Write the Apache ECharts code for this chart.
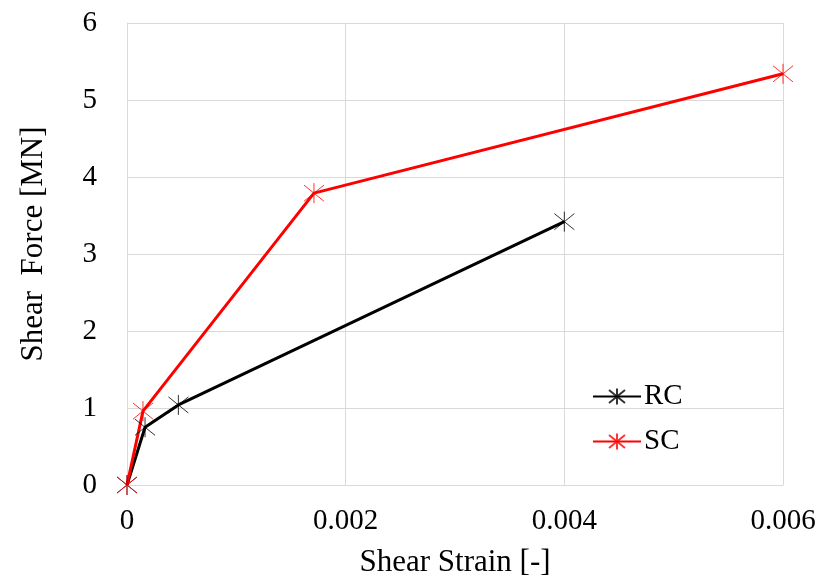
<!DOCTYPE html>
<html><head><meta charset="utf-8">
<script src="https://cdn.jsdelivr.net/npm/echarts@6/dist/echarts.min.js"></script>
<style>html,body{margin:0;padding:0;background:#fff}#c{width:823px;height:583px}</style>
</head><body><div id="c"></div>
<script>
const rcStrain = [0, 0.000165, 0.00047, 0.004];
const rcForce  = [0, 0.75, 1.04, 3.42];
const scStrain = [0, 0.000146, 0.00171, 0.006];
const scForce  = [0, 0.96, 3.79, 5.34];
const seriesNames = ['RC', 'SC'];
const xTitle = 'Shear Strain [-]';
const yTitle = 'Shear  Force [MN]';

const star = 'path://M0,0L10,10M0,10L10,0M5,-1.2L5,11.2';
const font = '"Liberation Serif", "Times New Roman", serif';
function pairs(xs, ys){ return xs.map((x,i)=>[x, ys[i]]); }
function mk(name, xs, ys, color){
  return {
    name, type:'line', data: pairs(xs, ys), symbol: star, symbolSize: 20,
    lineStyle:{color, width:3},
    itemStyle:{color:'none', borderColor: color, borderWidth:1, opacity:0.8},
    emphasis:{disabled:true}, animation:false
  };
}
const chart = echarts.init(document.getElementById('c'));
chart.setOption({
  animation:false,
  backgroundColor:'#fff',
  grid:{left:127, right:40, top:23, bottom:98},
  legend:{
    orient:'vertical', left:587, top:377, itemWidth:48, itemHeight:20, itemGap:16,
    data: seriesNames,
    textStyle:{fontFamily:font, fontSize:29, color:'#000', padding:[0,0,0,-2]}
  },
  xAxis:{
    type:'value', min:0, max:0.006, interval:0.002,
    name:xTitle, nameLocation:'middle', nameGap:62,
    nameTextStyle:{fontFamily:font, fontSize:31, color:'#000'},
    axisLine:{show:true, lineStyle:{color:'#d9d9d9', width:1}},
    axisTick:{show:false},
    axisLabel:{fontFamily:font, fontSize:29, color:'#000', margin:22},
    splitLine:{show:true, lineStyle:{color:'#d9d9d9', width:1}}
  },
  yAxis:{
    type:'value', min:0, max:6, interval:1,
    name:yTitle, nameLocation:'middle', nameGap:78,
    nameTextStyle:{fontFamily:font, fontSize:31, color:'#000', padding:[0,0,0,20]},
    axisLine:{show:true, lineStyle:{color:'#d9d9d9', width:1}},
    axisTick:{show:false},
    axisLabel:{fontFamily:font, fontSize:29, color:'#000', margin:30},
    splitLine:{show:true, lineStyle:{color:'#d9d9d9', width:1}}
  },
  series:[
    mk(seriesNames[0], rcStrain, rcForce, '#000000'),
    mk(seriesNames[1], scStrain, scForce, '#ff0000')
  ]
});
</script></body></html>
